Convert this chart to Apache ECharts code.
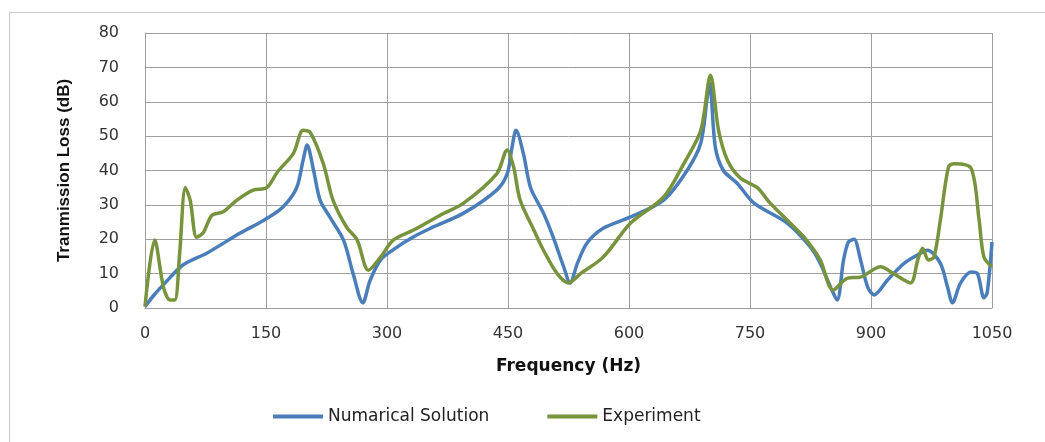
<!DOCTYPE html>
<html>
<head>
<meta charset="utf-8">
<script src="https://cdn.jsdelivr.net/npm/echarts@6/dist/echarts.min.js"></script>
<style>
html,body{margin:0;padding:0;background:#fff;}
#c{width:1045px;height:442px;}
</style>
</head>
<body>
<div id="c"></div>
<script>
const xTicks = [0,150,300,450,600,750,900,1050];
const yTicks = [0,10,20,30,40,50,60,70,80];

const numFreq = [0,12,25,47,77,118,148,171,188,196,201,209,217,229,246,258,270,279,292,308,333,354,395,436,449,455,460,469,478,494,506,519,527,536,548,568,602,643,672,689,697,700,707,717,734,755,796,825,837,850,858,866,872,879,887,896,904,920,941,962,970,986,995,1001,1011,1024,1032,1040,1044,1050];
const numTL   = [0.4,4,7.3,12.5,16,21.8,25.6,29.4,35,43,47.4,40,31.4,26.5,19.8,10,1.5,8,14,17,20.7,23.2,27.6,34.3,39,46.8,51.7,45,35,27.6,20.6,12,7.3,13,18.9,23.2,26.5,31.4,40,48,61.3,65.4,46.8,40,36.3,30.5,24.7,17.7,13,6,2.3,14,19.2,20,14,6,3.8,8,13,16,16.8,13,6,1.5,7.3,10.5,10,3,4.4,19.2];

const expFreq = [0,12,23,31,37,43,50,56,64,72,83,97,114,134,151,164,184,196,205,221,233,250,263,277,292,308,333,366,395,436,449,457,465,482,494,511,525,540,568,602,643,668,689,701,711,722,738,759,775,796,817,837,853,871,887,912,928,949,958,964,971,978,986,996,1003,1024,1034,1040,1050];
const expTL   = [0.4,19.8,6,2.3,2.3,16,35,31.4,20.6,21.8,27,28,31.4,34.3,35,39.5,45,51.7,51,42,31.4,23.5,19.8,11,14.8,19.8,22.7,27,30.5,39,46,41,31.4,22.7,16.8,10,7.3,10,14.8,24.7,32.3,42,51.7,67.7,51.7,43,37.8,35,30.5,25.6,20.6,14,5.2,8.7,9,12,10,7.3,14,17.4,14,14.8,25.6,41,42,40.7,25.6,14.8,12];

const seriesNames = ['Numarical Solution','Experiment'];
const xTitle = 'Frequency (Hz)';
const yTitle = 'Tranmission Loss (dB)';

const pair = (xs, ys) => xs.map((x, i) => [x, ys[i]]);

const chart = echarts.init(document.getElementById('c'), null, {renderer: 'canvas'});
const gridColor = '#9e9e9e';
chart.setOption({
  animation: false,
  backgroundColor: '#fff',
  color: ['#4a7ebb', '#77933c'],
  graphic: [{
    type: 'rect', left: 7, top: 10, shape: {width: 1100, height: 500},
    style: {fill: 'none', stroke: '#c8c8c8', lineWidth: 1}, silent: true
  }],
  grid: {left: 145, top: 33, right: 53, bottom: 134},
  legend: {
    left: 268, top: 403,
    itemWidth: 50, itemHeight: 4, itemGap: 58,
    icon: 'rect',
    textStyle: {fontFamily: 'DejaVu Sans', fontSize: 17, color: '#222'},
    data: seriesNames
  },
  xAxis: {
    type: 'value', min: xTicks[0], max: xTicks[xTicks.length-1], interval: 150,
    name: xTitle, nameLocation: 'middle', nameGap: 50,
    nameTextStyle: {fontFamily: 'DejaVu Sans', fontWeight: 'bold', fontSize: 17, color: '#111'},
    axisLine: {show: true, lineStyle: {color: gridColor, width: 1}},
    axisTick: {show: false},
    axisLabel: {fontFamily: 'DejaVu Sans', fontSize: 16, color: '#333', margin: 18,
      formatter: v => xTicks.includes(v) ? String(v) : ''},
    splitLine: {show: true, lineStyle: {color: gridColor, width: 1}}
  },
  yAxis: {
    type: 'value', min: yTicks[0], max: yTicks[yTicks.length-1], interval: 10,
    name: yTitle, nameLocation: 'middle', nameGap: 72, nameRotate: 90,
    nameTextStyle: {fontFamily: 'Liberation Sans', fontWeight: 'bold', fontSize: 17, color: '#111'},
    axisLine: {show: true, lineStyle: {color: gridColor, width: 1}},
    axisTick: {show: false},
    axisLabel: {fontFamily: 'DejaVu Sans', fontSize: 16, color: '#333', margin: 26},
    splitLine: {show: true, lineStyle: {color: gridColor, width: 1}}
  },
  series: [
    {name: seriesNames[0], type: 'line', data: pair(numFreq, numTL), smooth: 0.3,
     showSymbol: false, lineStyle: {width: 3.5, color: '#4a7ebb'}, z: 2},
    {name: seriesNames[1], type: 'line', data: pair(expFreq, expTL), smooth: 0.3,
     showSymbol: false, lineStyle: {width: 3.5, color: '#77933c'}, z: 3}
  ]
});
</script>
</body>
</html>
